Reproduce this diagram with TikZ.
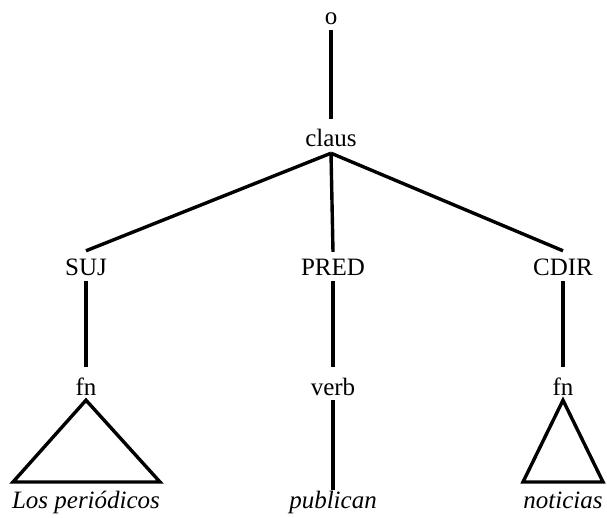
\documentclass[tikz,border=0pt]{standalone}
\usepackage{fontspec}
\setmainfont{Liberation Serif}
\begin{document}
\begin{tikzpicture}[x=1pt,y=-1pt,
  cat/.style={font=\fontsize{25}{30}\selectfont, inner sep=0pt,
    text height=28pt, text depth=5pt, anchor=base},
  leaf/.style={font=\fontsize{25}{30}\selectfont\itshape, inner sep=0pt,
    text height=18pt, text depth=5pt, anchor=base},
  branch/.style={line width=3.4pt},
  roof/.style={line width=3.4pt, line join=miter}]
\useasboundingbox (0,0) rectangle (607,518);

% category labels
\node[cat] (o)     at (331,25)  {o};
\node[cat] (claus) at (331,147) {claus};
\node[cat] (suj)   at (86,276)  {SUJ};
\node[cat] (pred)  at (333,276) {PRED};
\node[cat] (cdir)  at (563,276) {CDIR};
\node[cat] (fn1)   at (86,395)  {fn};
\node[cat] (verb)  at (333,395) {verb};
\node[cat] (fn2)   at (563,395) {fn};

% terminal words
\node[leaf] (w1) at (86,508)  {Los periódicos};
\node[leaf] (w2) at (333,508) {publican};
\node[leaf] (w3) at (563,508) {noticias};

% base corners of the roofs
\coordinate (l1) at (13,482);
\coordinate (r1) at (160,482);
\coordinate (l2) at (523,482);
\coordinate (r2) at (603,482);

% branches
\draw[branch] (o.south) -- (claus.north);
\draw[branch] ([yshift=-1pt]claus.south) -- ([yshift=-3pt]suj.north);
\draw[branch] ([yshift=-1pt]claus.south) -- ([yshift=-4pt]pred.north);
\draw[branch] ([yshift=-1pt]claus.south) -- ([yshift=-3pt]cdir.north);
\draw[branch] (suj.south) -- (fn1.north);
\draw[branch] (pred.south) -- (verb.north);
\draw[branch] (cdir.south) -- (fn2.north);
\draw[branch] (verb.south) -- (w2.north);

% roofs over phrases
\draw[roof] (fn1.south) -- (l1) -- (r1) -- cycle;
\draw[roof] (fn2.south) -- (l2) -- (r2) -- cycle;
\end{tikzpicture}
\end{document}
